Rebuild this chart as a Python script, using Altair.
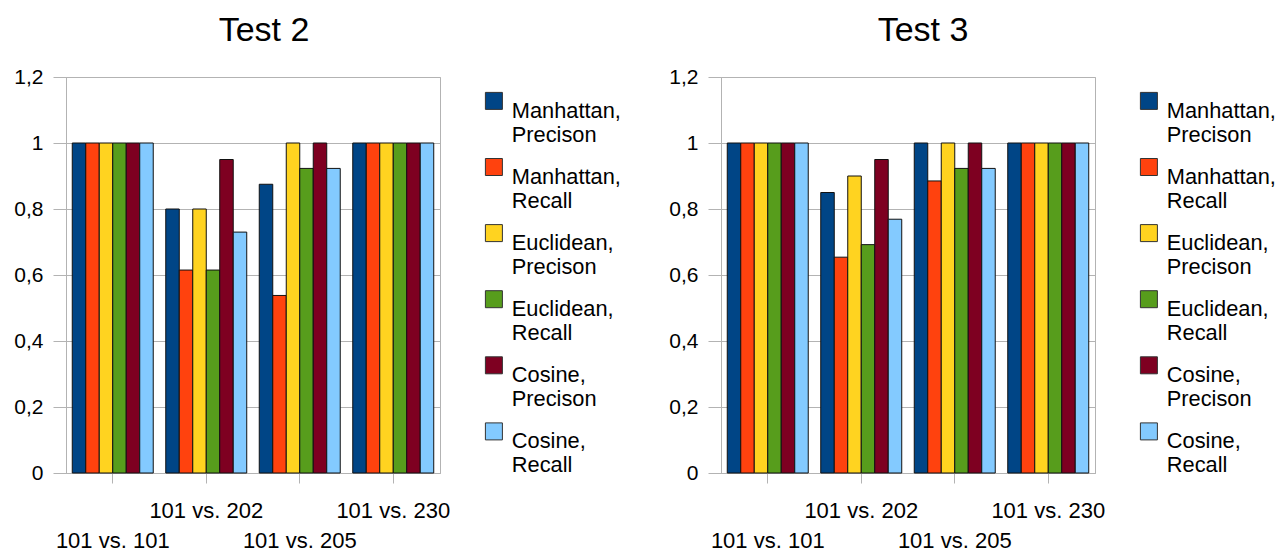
import json
import altair as alt
import pandas as pd

# ---- data ----
groups = ["101 vs. 101", "101 vs. 202", "101 vs. 205", "101 vs. 230"]
series = [
    "Manhattan, Precison",
    "Manhattan, Recall",
    "Euclidean, Precison",
    "Euclidean, Recall",
    "Cosine, Precison",
    "Cosine, Recall",
]
colors = ["#004586", "#ff420e", "#ffd320", "#579d1c", "#7e0021", "#83caff"]
y_ticks = [0, 0.2, 0.4, 0.6, 0.8, 1.0, 1.2]

# Test 2 (one list per series, values for the four groups)
t2_manhattan_precision = [1.0, 0.8, 0.875, 1.0]
t2_manhattan_recall = [1.0, 0.615, 0.538, 1.0]
t2_euclidean_precision = [1.0, 0.8, 1.0, 1.0]
t2_euclidean_recall = [1.0, 0.615, 0.923, 1.0]
t2_cosine_precision = [1.0, 0.95, 1.0, 1.0]
t2_cosine_recall = [1.0, 0.73, 0.923, 1.0]

# Test 3
t3_manhattan_precision = [1.0, 0.85, 1.0, 1.0]
t3_manhattan_recall = [1.0, 0.654, 0.885, 1.0]
t3_euclidean_precision = [1.0, 0.9, 1.0, 1.0]
t3_euclidean_recall = [1.0, 0.692, 0.923, 1.0]
t3_cosine_precision = [1.0, 0.95, 1.0, 1.0]
t3_cosine_recall = [1.0, 0.769, 0.923, 1.0]


def to_long(values_by_series):
    rows = []
    for s, vals in zip(series, values_by_series):
        for g, v in zip(groups, vals):
            rows.append({"group": g, "series": s, "value": v})
    return pd.DataFrame(rows)


df2 = to_long([t2_manhattan_precision, t2_manhattan_recall, t2_euclidean_precision,
               t2_euclidean_recall, t2_cosine_precision, t2_cosine_recall])
df3 = to_long([t3_manhattan_precision, t3_manhattan_recall, t3_euclidean_precision,
               t3_euclidean_recall, t3_cosine_precision, t3_cosine_recall])

FONT = "Liberation Sans"
GRID = "#b3b3b3"

x_label_expr = (
    f"indexof({json.dumps(groups)}, datum.value) % 2 == 0 ? ['', datum.label] : datum.label"
)
y_label_expr = "replace(format(datum.value, '~g'), '.', ',')"


def panel(df, title, title_dx):
    return (
        alt.Chart(df)
        .mark_bar(stroke="#111111", strokeWidth=1)
        .encode(
            x=alt.X(
                "group:N",
                sort=groups,
                scale=alt.Scale(paddingInner=0.134, paddingOuter=0.067),
                axis=alt.Axis(
                    title=None,
                    labelAngle=0,
                    tickSize=10,
                    labelPadding=17,
                    labelBaseline="top",
                    labelLineHeight=30,
                    labelFontSize=22,
                    labelExpr=x_label_expr,
                    labelOverlap=False,
                    labelLimit=400,
                    grid=False,
                    domainColor=GRID,
                    tickColor=GRID,
                ),
            ),
            xOffset=alt.XOffset("series:N", sort=series),
            y=alt.Y(
                "value:Q",
                scale=alt.Scale(domain=[0, 1.2], nice=False, zero=True),
                axis=alt.Axis(
                    title=None,
                    values=y_ticks,
                    labelExpr=y_label_expr,
                    labelFontSize=21,
                    tickSize=13,
                    labelPadding=10,
                    grid=True,
                    gridColor=GRID,
                    domainColor=GRID,
                    tickColor=GRID,
                ),
            ),
            color=alt.Color(
                "series:N",
                sort=series,
                scale=alt.Scale(domain=series, range=colors),
                legend=alt.Legend(
                    title=None,
                    orient="none",
                    legendX=417,
                    legendY=13,
                    padding=0,
                    symbolType="square",
                    symbolSize=289,
                    symbolStrokeColor="#333333",
                    symbolStrokeWidth=1,
                    symbolOpacity=1,
                    labelFontSize=21.8,
                    labelFont=FONT,
                    labelColor="black",
                    labelOffset=7,
                    labelBaseline="top",
                    labelExpr="split(datum.label, ' ')",
                    labelLimit=400,
                    rowPadding=9.1,
                ),
            ),
        )
        .properties(
            width=374,
            height=396,
            title=alt.TitleParams(
                title,
                fontSize=34,
                font=FONT,
                fontWeight="normal",
                color="black",
                anchor="middle",
                frame="group",
                dx=title_dx,
                offset=18,
            ),
        )
    )


chart = (
    alt.hconcat(panel(df2, "Test 2", 11), panel(df3, "Test 3", 15), spacing=46)
    .resolve_scale(color="independent")
    .properties(padding={"left": 5, "top": 5, "right": 0, "bottom": 5})
    .configure(font=FONT)
    .configure_view(stroke=GRID, strokeWidth=1)
    .configure_axis(labelFont=FONT, labelColor="black")
)

chart.save("out.html", embed_options={"renderer": "svg", "actions": False})
